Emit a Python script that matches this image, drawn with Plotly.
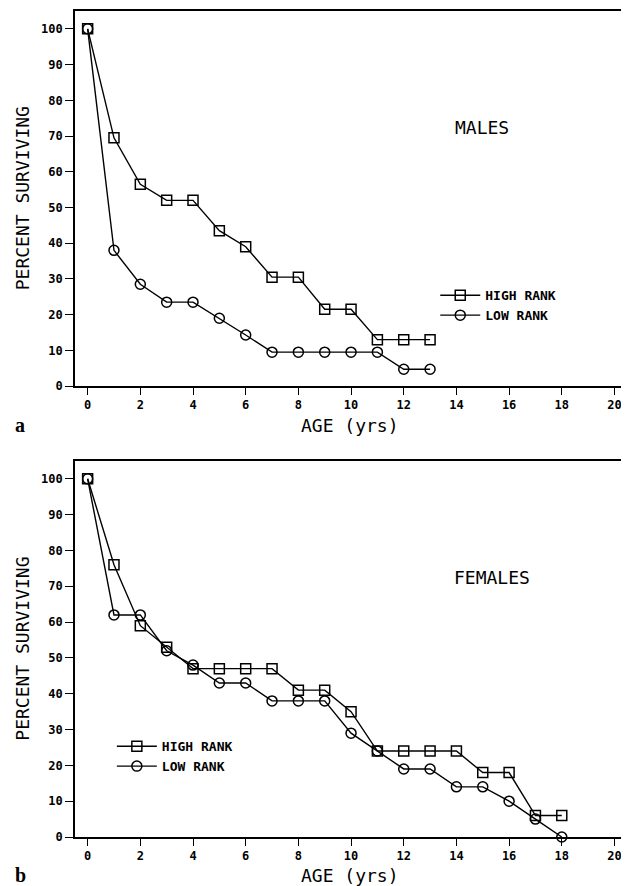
import plotly.graph_objects as go

ages_m = list(range(0, 14))
male_high = [100, 69.5, 56.5, 52, 52, 43.5, 39, 30.5, 30.5, 21.5, 21.5, 13, 13, 13]
male_low = [100, 38, 28.5, 23.5, 23.5, 19, 14.3, 9.5, 9.5, 9.5, 9.5, 9.5, 4.7, 4.7]

ages_f = list(range(0, 19))
female_high = [100, 76, 59, 53, 47, 47, 47, 47, 41, 41, 35, 24, 24, 24, 24, 18, 18, 6, 6]
female_low = [100, 62, 62, 52, 48, 43, 43, 38, 38, 38, 29, 24, 19, 19, 14, 14, 10, 5, 0]

x_ticks = list(range(0, 21, 2))
y_ticks = list(range(0, 101, 10))

FONT = "DejaVu Sans Mono, Liberation Mono, monospace"
BLACK = "black"

fig = go.Figure()

def add_series(x, y, name, symbol, xa, ya, legend):
    fig.add_trace(go.Scatter(
        x=x, y=y, name=name, mode="lines+markers",
        line=dict(color=BLACK, width=1.4),
        marker=dict(symbol=symbol, size=10, color=BLACK, line=dict(color=BLACK, width=1.5)),
        xaxis=xa, yaxis=ya, legend=legend, cliponaxis=False,
    ))

add_series(ages_m, male_high, "HIGH RANK", "square-open", "x", "y", "legend")
add_series(ages_m, male_low, "LOW RANK", "circle-open", "x", "y", "legend")
add_series(ages_f, female_high, "HIGH RANK", "square-open", "x2", "y2", "legend2")
add_series(ages_f, female_low, "LOW RANK", "circle-open", "x2", "y2", "legend2")

tickfont = dict(family=FONT, size=12, color=BLACK, weight="bold")
xcommon = dict(range=[-0.48, 20.4], tickvals=x_ticks, ticks="outside", ticklen=7, tickwidth=1.4,
               tickcolor=BLACK, showline=True, linecolor=BLACK, linewidth=1.6, mirror=True,
               showgrid=False, zeroline=False, tickfont=tickfont)
ycommon = dict(range=[0, 105], tickvals=y_ticks, ticks="outside", ticklen=8, tickwidth=1.4,
               tickcolor=BLACK, showline=True, linecolor=BLACK, linewidth=1.6, mirror=True,
               showgrid=False, zeroline=False, tickfont=tickfont)

# page has an 8px body margin; figure sized so the plot boxes land where the reference has them
top_bottom = (829 - 377) / 828
bot_top = (829 - 452) / 828

legfont = dict(family=FONT, size=13, color=BLACK, weight="bold")
fig.update_layout(
    width=621, height=878,
    margin=dict(l=67, r=4, t=1, b=49),
    paper_bgcolor="white", plot_bgcolor="white",
    showlegend=True,
    xaxis=dict(domain=[0, 1], anchor="y", **xcommon),
    yaxis=dict(domain=[top_bottom, 1], anchor="x", **ycommon),
    xaxis2=dict(domain=[0, 1], anchor="y2", **xcommon),
    yaxis2=dict(domain=[0, bot_top], anchor="x2", **ycommon),
    legend=dict(x=0.655, y=0.674, xanchor="left", yanchor="top", bgcolor="rgba(0,0,0,0)",
                font=legfont, tracegroupgap=0, itemwidth=40),
    legend2=dict(x=0.067, y=0.128, xanchor="left", yanchor="top", bgcolor="rgba(0,0,0,0)",
                 font=legfont, tracegroupgap=0, itemwidth=40),
)

tfont = dict(family=FONT, size=18, color=BLACK)
for xr, yr, sex, sx, sy, panel, py in [("x domain", "y domain", "MALES", 0.74, 0.690, "a", -0.104),
                                       ("x2 domain", "y2 domain", "FEMALES", 0.758, 0.689, "b", -0.101)]:
    fig.add_annotation(text="PERCENT SURVIVING", xref=xr, yref=yr, x=-0.095, y=0.5,
                       textangle=-90, showarrow=False, font=tfont, xanchor="center", yanchor="middle")
    fig.add_annotation(text="AGE (yrs)", xref=xr, yref=yr, x=0.5, y=py - 0.002,
                       showarrow=False, font=tfont, xanchor="center", yanchor="middle")
    fig.add_annotation(text=sex, xref=xr, yref=yr, x=sx, y=sy,
                       showarrow=False, font=tfont, xanchor="center", yanchor="middle")
    fig.add_annotation(text="<b>%s</b>" % panel, xref=xr, yref=yr, x=-0.1, y=py,
                       showarrow=False, font=dict(family="Liberation Serif, DejaVu Serif, serif", size=20, color=BLACK),
                       xanchor="center", yanchor="middle")

fig.write_html("out.html")
